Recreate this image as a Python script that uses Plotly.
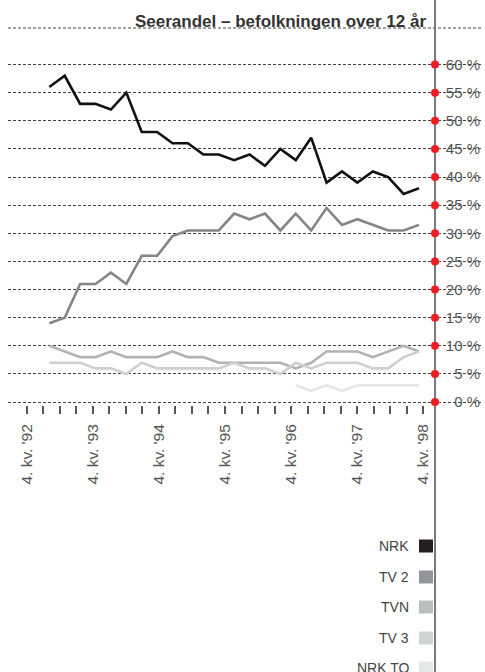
import plotly.graph_objects as go

# ---------------- data ----------------
quarters = ["4. kv. '92", "1. kv. '93", "2. kv. '93", "3. kv. '93", "4. kv. '93",
            "1. kv. '94", "2. kv. '94", "3. kv. '94", "4. kv. '94",
            "1. kv. '95", "2. kv. '95", "3. kv. '95", "4. kv. '95",
            "1. kv. '96", "2. kv. '96", "3. kv. '96", "4. kv. '96",
            "1. kv. '97", "2. kv. '97", "3. kv. '97", "4. kv. '97",
            "1. kv. '98", "2. kv. '98", "3. kv. '98", "4. kv. '98"]

nrk = [56, 58, 53, 53, 52, 55, 48, 48, 46, 46, 44, 44, 43, 44, 42, 45, 43, 47,
       39, 41, 39, 41, 40, 37, 38]
tv2 = [14, 15, 21, 21, 23, 21, 26, 26, 29.5, 30.5, 30.5, 30.5, 33.5, 32.5, 33.5,
       30.5, 33.5, 30.5, 34.5, 31.5, 32.5, 31.5, 30.5, 30.5, 31.5]
tvn = [10, 9, 8, 8, 9, 8, 8, 8, 9, 8, 8, 7, 7, 7, 7, 7, 6, 7, 9, 9, 9, 8, 9, 10, 9]
tv3 = [7, 7, 7, 6, 6, 5, 7, 6, 6, 6, 6, 6, 7, 6, 6, 5, 7, 6, 7, 7, 7, 6, 6, 8, 9]
nrk_to = [None] * 16 + [3, 2, 3, 2, 3, 3, 3, 3, 3]

series_names = ["NRK", "TV 2", "TVN", "TV 3", "NRK TO"]
series_values = [nrk, tv2, tvn, tv3, nrk_to]
series_colors = ["#111111", "#858585", "#b2b2b4", "#cfcfd0", "#e6e6e7"]
legend_colors = ["#231f20", "#939598", "#bcbec0", "#d1d3d4", "#e6e7e8"]

y_ticks = list(range(0, 65, 5))
y_ticktext = [f"{v} %" for v in y_ticks]
x_tick_labels = [q if q.startswith("4.") else "" for q in quarters]

title_text = "Seerandel – befolkningen over 12 år"

# ---------------- layout helpers (pixels) ----------------
W, H = 485, 672
L, R, T, B = 8, 2, 28, 261
PW = W - L - R
PH = H - T - B


def px_x(p):
    return (p - L) / PW


def px_y(p):
    return (H - B - p) / PH


FONT = "Liberation Sans, Arial, sans-serif"
idx = list(range(len(quarters)))
axis_x_data = -2.681 + (435 - L) / 15.404

fig = go.Figure()
for name, vals, col in zip(series_names, series_values, series_colors):
    fig.add_trace(go.Scatter(x=idx, y=vals, mode="lines", name=name,
                             line=dict(color=col, width=2.6),
                             showlegend=False, hoverinfo="skip"))

# red dots on the value axis
fig.add_trace(go.Scatter(x=[axis_x_data] * len(y_ticks), y=y_ticks, mode="markers",
                         marker=dict(color="#ee1d23", size=8), cliponaxis=False,
                         showlegend=False, hoverinfo="skip"))

# carrier trace for the tick axis
fig.add_trace(go.Scatter(x=idx, y=[None] * len(idx), xaxis="x2", mode="lines",
                         showlegend=False, hoverinfo="skip"))

shapes = [
    # top dashed border
    dict(type="line", xref="paper", yref="paper", x0=0, x1=1, y0=1, y1=1,
         line=dict(color="#444", width=1, dash="3px,2px"), layer="between"),
    # vertical value axis
    dict(type="line", xref="paper", yref="paper", x0=px_x(435), x1=px_x(435),
         y0=px_y(H), y1=px_y(0), line=dict(color="#7a7a7a", width=2),
         layer="between"),
]
annotations = [
    dict(text=f"<b>{title_text}</b>", xref="paper", yref="paper",
         x=px_x(428), y=px_y(33), xanchor="right", yanchor="bottom",
         showarrow=False, font=dict(family=FONT, size=17, color="#333"))
]

leg_y = [546, 577, 607, 638, 668]
for name, col, yy in zip(series_names, legend_colors, leg_y):
    annotations.append(dict(text=name, xref="paper", yref="paper", x=px_x(411),
                            y=px_y(yy), xanchor="right", yanchor="middle",
                            showarrow=False,
                            font=dict(family=FONT, size=14, color="#444")))
    shapes.append(dict(type="rect", xref="paper", yref="paper",
                       x0=px_x(419), x1=px_x(433), y0=px_y(yy + 6.5),
                       y1=px_y(yy - 6.5), fillcolor=col, line=dict(width=0)))

fig.update_layout(
    width=W, height=H,
    margin=dict(l=L, r=R, t=T, b=B, pad=0),
    paper_bgcolor="white", plot_bgcolor="white",
    showlegend=False,
    font=dict(family=FONT, size=14, color="#555"),
    xaxis=dict(visible=False, range=[-2.681, 28.155], fixedrange=True),
    xaxis2=dict(overlaying="x", anchor="free", position=px_y(405), side="bottom",
                range=[-1.1316, 27.612], tickmode="array", tickvals=idx,
                ticktext=x_tick_labels, ticks="outside", ticklen=8,
                tickwidth=1.5, tickcolor="#555", tickangle=-90,
                ticklabelstandoff=4,
                showgrid=False, zeroline=False, showline=False,
                tickfont=dict(family=FONT, size=15.5, color="#555")),
    yaxis=dict(range=[-1.58, 66.49], side="right", tickmode="array",
               tickvals=y_ticks, ticktext=y_ticktext,
               ticklabelposition="inside", ticks="",
               showgrid=True, gridcolor="#444", gridwidth=1,
               griddash="3px,2px", zeroline=False, showline=False,
               tickfont=dict(family=FONT, size=15, color="#555")),
    shapes=shapes,
    annotations=annotations,
)

fig.write_html("out.html",
               config={"displayModeBar": False},
               post_script="document.body.style.margin='0';"
                           "document.body.style.overflow='hidden';")
